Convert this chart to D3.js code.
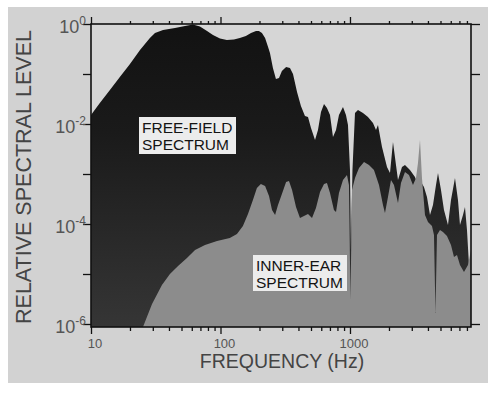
<!DOCTYPE html>
<html><head><meta charset="utf-8">
<script src="https://cdn.jsdelivr.net/npm/d3@7"></script>
<style>body{margin:0;background:#fff}svg{display:block}text{font-family:"Liberation Sans",Arial,Helvetica,sans-serif}</style>
</head><body><svg id="c" width="500" height="393"></svg>
<script>
// Free-field spectrum (upper envelope), frequency in Hz and relative level
const freeFreq = [10, 11.7, 14.0, 16.7, 20.0, 23.9, 28.5, 31.2, 36.0, 44.5,
  53.2, 61.3, 69.4, 78.7, 87.5, 99.1, 112, 127, 141, 157,
  172, 188, 198, 209, 221, 233, 241, 254, 268, 283,
  298, 321, 344, 363, 390, 418, 449, 474, 500, 537,
  566, 597, 630, 664, 701, 739, 780, 822, 883, 931,
  965, 1000, 1018, 1045, 1093, 1153, 1260, 1377, 1505, 1588,
  1645, 1767, 1931, 2037, 2148, 2266, 2348, 2521, 2659, 2906,
  3177, 3350, 3535, 3727, 3932, 4148, 4374, 4615, 4782, 5044,
  5320, 5712, 6025, 6469, 6823, 7070, 7458, 7727, 8008, 8297, 8600];
const freeLevel = [0.0151, 0.0263, 0.0479, 0.0871, 0.158, 0.302, 0.525, 0.661, 0.759, 0.832,
  0.912, 0.977, 0.891, 0.724, 0.603, 0.513, 0.479, 0.490, 0.525, 0.575,
  0.661, 0.724, 0.724, 0.661, 0.525, 0.347, 0.263, 0.132, 0.0794, 0.0832,
  0.115, 0.138, 0.132, 0.1, 0.0437, 0.0229, 0.0145, 0.0138, 0.00832, 0.00479,
  0.00759, 0.0174, 0.0251, 0.0209, 0.0151, 0.0055, 0.00759, 0.0151, 0.0219, 0.0151,
  0.00955, 0.0012, 3.02e-5, 0.0012, 0.0166, 0.0191, 0.0166, 0.0138, 0.0105, 0.00759,
  0.00955, 0.00347, 0.00138, 0.00105, 0.00437, 0.00151, 0.000759, 0.00138, 0.00151, 0.0012,
  0.000871, 0.000603, 0.000692, 0.00055, 0.000347, 0.000151, 0.00024, 0.000603, 0.00105, 0.000479,
  0.000191, 9.55e-5, 0.000302, 0.000832, 0.000302, 9.55e-5, 0.000151, 0.000219, 7.59e-5, 1.51e-5, 1.2e-5];

// Inner-ear spectrum
const innerFreq = [24.3, 25.2, 29.6, 35.3, 40.7, 47.0, 55.1, 63.6, 75.9, 94.0,
  118, 134, 149, 163, 178, 191, 205, 221, 237, 250,
  264, 278, 298, 321, 338, 357, 383, 411, 441, 474,
  509, 546, 587, 630, 664, 701, 752, 780, 822, 883,
  948, 982, 1009, 1036, 1093, 1174, 1283, 1402, 1532, 1675,
  1798, 1863, 1965, 2073, 2187, 2348, 2476, 2659, 2855, 3065,
  3234, 3350, 3472, 3597, 3795, 4003, 4297, 4453, 4573, 4697,
  4955, 5226, 5610, 6025, 6356, 6705, 7070, 7592, 8150, 8600];
const innerLevel = [7.59e-7, 8.71e-7, 2.51e-6, 6.03e-6, 1e-5, 1.45e-5, 2.09e-5, 3.02e-5, 3.8e-5, 4.57e-5,
  5.25e-5, 6.31e-5, 9.12e-5, 1.58e-4, 3.02e-4, 5.25e-4, 6.31e-4, 5.75e-4, 3.63e-4, 1.91e-4,
  1.51e-4, 2.4e-4, 3.98e-4, 6.92e-4, 7.24e-4, 4.79e-4, 2.19e-4, 1.32e-4, 1.45e-4, 1.58e-4,
  1.32e-4, 2.09e-4, 4.37e-4, 6.31e-4, 6.61e-4, 4.17e-4, 1.91e-4, 1.74e-4, 4.17e-4, 7.59e-4,
  9.55e-4, 6.03e-4, 3.02e-6, 4.79e-4, 8.32e-4, 1.32e-3, 1.74e-3, 1.51e-3, 1.2e-3, 6.03e-4,
  2.4e-4, 1.66e-4, 3.47e-4, 7.59e-4, 6.03e-4, 2.63e-4, 6.61e-4, 1.1e-3, 9.55e-4, 6.03e-4,
  8.32e-4, 1.66e-3, 4.79e-3, 8.32e-4, 1.51e-4, 1.1e-4, 9.12e-5, 6.03e-5, 1.66e-6, 6.03e-5,
  7.59e-5, 6.92e-5, 5.75e-5, 3.8e-5, 2.19e-5, 2.4e-5, 1.51e-5, 1.1e-5, 1.51e-5, 3.02e-5];

const xMajor = [10, 100, 1000];
const xMinor = [20,30,40,50,60,70,80,90,200,300,400,500,600,700,800,900,2000,3000,4000,5000,6000,7000,8000];
const yTicks = [1, 1e-1, 1e-2, 1e-3, 1e-4, 1e-5, 1e-6];
const yLabelExp = [0, -2, -4, -6];
const xLabel = "FREQUENCY (Hz)";
const yLabel = "RELATIVE SPECTRAL LEVEL";

const svg = d3.select("#c");
const L = 91, R = 471, T = 24, B = 327;
const x = d3.scaleLog().domain([10, 8600]).range([L, R]);
const y = d3.scaleLog().domain([1, 1e-6]).range([T, 324]);

svg.append("rect").attr("x", 8).attr("y", 7).attr("width", 480).attr("height", 376).attr("fill", "#d2d2d2");
svg.append("rect").attr("x", L).attr("y", T).attr("width", R - L).attr("height", B - T).attr("fill", "#d6d6d6");

const defs = svg.append("defs");
defs.append("clipPath").attr("id", "clip").append("rect").attr("x", L).attr("y", T).attr("width", R - L).attr("height", B - T);
const g1 = defs.append("linearGradient").attr("id", "ffg").attr("x1", 0).attr("y1", 0).attr("x2", 0).attr("y2", 1);
g1.append("stop").attr("offset", "0").attr("stop-color", "#121212");
g1.append("stop").attr("offset", "0.35").attr("stop-color", "#1a1a1a");
g1.append("stop").attr("offset", "1").attr("stop-color", "#363636");

const free = freeFreq.map((f, i) => ({ f, v: freeLevel[i] }));
const inner = innerFreq.map((f, i) => ({ f, v: innerLevel[i] }));
const area = d3.area().x(d => x(d.f)).y0(B + 5).y1(d => y(d.v));

const plot = svg.append("g").attr("clip-path", "url(#clip)");
plot.append("path").datum(free).attr("d", area).attr("fill", "url(#ffg)");
plot.append("path").datum(inner).attr("d", area).attr("fill", "#8c8c8c");

// axes
function styleAxis(sel) {
  sel.select(".domain").remove();
  sel.selectAll(".tick line").attr("stroke", "#111").attr("stroke-width", 1.3);
}
svg.append("g").attr("transform", `translate(0,${B})`)
  .call(d3.axisBottom(x).tickValues(xMinor).tickSize(4).tickFormat(""))
  .call(styleAxis);
svg.append("g").attr("transform", `translate(0,${B})`)
  .call(d3.axisBottom(x).tickValues(xMajor).tickSize(7).tickFormat(""))
  .call(styleAxis);
svg.append("g").attr("transform", `translate(0,${T})`)
  .call(d3.axisTop(x).tickValues(xMinor).tickSize(3).tickFormat(""))
  .call(styleAxis);
svg.append("g").attr("transform", `translate(0,${T})`)
  .call(d3.axisTop(x).tickValues(xMajor).tickSize(7).tickFormat(""))
  .call(styleAxis);
svg.append("g").attr("transform", `translate(${L},0)`)
  .call(d3.axisLeft(y).tickValues(yTicks).tickSize(8).tickFormat(""))
  .call(styleAxis);
svg.append("g").attr("transform", `translate(${R},0)`)
  .call(d3.axisRight(y).tickValues(yTicks).tickSize(9).tickFormat(""))
  .call(styleAxis);

svg.append("rect").attr("x", L).attr("y", T).attr("width", R - L).attr("height", B - T)
  .attr("fill", "none").attr("stroke", "#111").attr("stroke-width", 1.6);

// x tick labels
svg.selectAll(".xl").data(xMajor).enter().append("text")
  .attr("x", d => x(d) + 4).attr("y", 347.5).attr("text-anchor", "middle")
  .attr("font-size", 13).attr("fill", "#555").text(d => d);

// y tick labels with superscripts
yLabelExp.forEach(e => {
  const t = svg.append("text").attr("x", 86).attr("y", y(Math.pow(10, e)) + 9)
    .attr("text-anchor", "end").attr("fill", "#555").attr("font-size", 18);
  t.append("tspan").text("10");
  t.append("tspan").attr("font-size", 12).attr("dy", -8).text(e === 0 ? "0" : "-" + (-e));
});

// axis titles
svg.append("text").attr("x", 282).attr("y", 368).attr("text-anchor", "middle")
  .attr("font-size", 19.5).attr("fill", "#444").text(xLabel);
svg.append("text").attr("transform", "translate(31,177) rotate(-90)").attr("text-anchor", "middle")
  .attr("font-size", 21.5).attr("fill", "#444").text(yLabel);

// series labels
function boxLabel(bx, by, bw, bh, lines, tx, ty) {
  svg.append("rect").attr("x", bx).attr("y", by).attr("width", bw).attr("height", bh).attr("fill", "#ececec");
  lines.forEach((s, i) => svg.append("text").attr("x", tx).attr("y", ty + i * 17)
    .attr("font-size", 15.5).attr("fill", "#141414").text(s));
}
boxLabel(139, 117, 97, 37, ["FREE-FIELD", "SPECTRUM"], 142, 133);
boxLabel(253, 255, 94, 36, ["INNER-EAR", "SPECTRUM"], 256, 271);
</script></body></html>
